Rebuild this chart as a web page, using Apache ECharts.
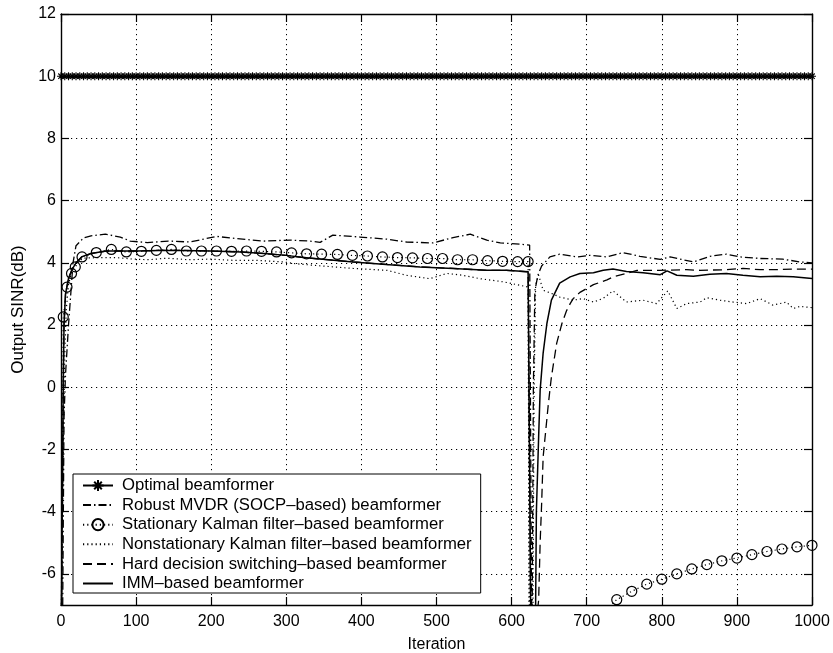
<!DOCTYPE html>
<html><head><meta charset="utf-8">
<script src="https://cdn.jsdelivr.net/npm/echarts@6/dist/echarts.min.js"></script>
<style>html,body{margin:0;padding:0;background:#fff}#c{width:833px;height:653px}</style>
</head><body><div id="c"></div>
<script>
// ---- axis ticks ----
const xTickValues = [0, 100, 200, 300, 400, 500, 600, 700, 800, 900, 1000];
const yTickValues = [-6, -4, -2, 0, 2, 4, 6, 8, 10, 12];

// ---- series names ----
const seriesNames = [
  'Optimal beamformer',
  'Robust MVDR (SOCP–based) beamformer',
  'Stationary Kalman filter–based beamformer',
  'Nonstationary Kalman filter–based beamformer',
  'Hard decision switching–based beamformer',
  'IMM–based beamformer'
];

// ---- Optimal beamformer (constant) ----
const optimalSINR = 10;
const optimalMarkerStep = 5;

// ---- Robust MVDR ----
const mvdrIter = [0, 2, 4, 6, 8, 10, 13, 16, 20, 30, 40, 59, 79, 92, 115, 143, 172, 207, 234, 269, 305, 331, 345, 362, 398, 434, 460, 495, 522, 545, 567, 585, 611, 624, 627, 629, 631, 635, 640, 651, 664, 687, 704, 727, 748, 771, 798, 811, 842, 864, 886, 904, 931, 961, 984, 1000];
const mvdrSINR = [-9, -8, -1, 0.4, 1.2, 2.0, 3.0, 4.0, 4.55, 4.8, 4.87, 4.92, 4.83, 4.70, 4.65, 4.70, 4.67, 4.85, 4.78, 4.70, 4.73, 4.70, 4.66, 4.89, 4.83, 4.76, 4.67, 4.64, 4.81, 4.92, 4.73, 4.64, 4.60, 4.57, -9, 0, 3.1, 3.6, 3.9, 4.19, 4.28, 4.19, 4.24, 4.19, 4.33, 4.21, 4.11, 4.19, 4.03, 4.21, 4.28, 4.19, 4.14, 4.12, 4.03, 4.0];

// ---- Stationary Kalman ----
const statIter = [0, 3, 8, 14, 19, 28, 47, 67, 87, 107, 127, 147, 167, 187, 207, 227, 247, 267, 287, 307, 327, 347, 368, 388, 408, 428, 448, 468, 488, 508, 528, 548, 568, 588, 608, 622, 624, 722, 740, 760, 780, 800, 820, 840, 860, 880, 900, 920, 940, 960, 980, 1000];
const statSINR = [-9, 2.26, 3.22, 3.66, 3.87, 4.19, 4.33, 4.43, 4.35, 4.37, 4.40, 4.43, 4.38, 4.38, 4.38, 4.37, 4.38, 4.37, 4.35, 4.32, 4.29, 4.28, 4.27, 4.24, 4.22, 4.19, 4.17, 4.16, 4.14, 4.14, 4.10, 4.10, 4.07, 4.05, 4.04, 4.04, -14, -7.2, -6.83, -6.56, -6.33, -6.17, -6.0, -5.84, -5.70, -5.58, -5.49, -5.38, -5.28, -5.20, -5.13, -5.08];

// ---- Nonstationary Kalman ----
const nonstatIter = [0, 3, 5, 7, 10, 15, 20, 30, 50, 73, 96, 117, 141, 170, 200, 230, 260, 296, 313, 347, 389, 434, 460, 491, 514, 535, 558, 589, 611, 622, 624, 628, 630, 632, 636, 642, 655, 664, 682, 695, 709, 722, 735, 753, 775, 793, 808, 820, 833, 851, 860, 877, 895, 913, 931, 948, 966, 975, 984, 1000];
const nonstatSINR = [-9, -2, 1, 2.5, 3.3, 3.8, 4.0, 4.15, 4.17, 4.17, 4.12, 4.10, 4.15, 4.10, 4.12, 4.08, 4.08, 4.03, 3.97, 3.90, 3.82, 3.76, 3.60, 3.49, 3.66, 3.60, 3.49, 3.39, 3.28, 3.22, -9, -9, 0, 3.3, 3.6, 3.12, 3.0, 2.9, 2.80, 2.85, 2.74, 2.86, 3.10, 2.74, 2.80, 2.69, 3.10, 2.53, 2.69, 2.74, 2.88, 2.80, 2.74, 2.69, 2.85, 2.64, 2.74, 2.53, 2.60, 2.56];

// ---- Hard decision switching ----
const hardIter = [0, 2, 3, 4, 6, 10, 15, 20, 28, 40, 60, 80, 100, 130, 160, 200, 240, 270, 300, 320, 345, 389, 433, 478, 522, 567, 593, 622, 626, 636, 638, 640, 642, 649, 653, 660, 667, 673, 678, 682, 691, 709, 727, 735, 753, 767, 784, 798, 833, 851, 886, 908, 931, 953, 975, 1000];
const hardSINR = [-9, -3, 0, 2.0, 3.0, 3.5, 3.8, 4.0, 4.2, 4.3, 4.38, 4.38, 4.38, 4.40, 4.40, 4.38, 4.35, 4.30, 4.24, 4.18, 4.12, 4.03, 3.95, 3.87, 3.82, 3.76, 3.76, 3.71, -9, -6.85, -5.0, -3.74, -2.24, -0.52, 0.33, 1.41, 2.05, 2.45, 2.69, 2.85, 3.05, 3.30, 3.45, 3.55, 3.66, 3.76, 3.76, 3.76, 3.78, 3.76, 3.78, 3.82, 3.78, 3.78, 3.80, 3.80];

// ---- IMM ----
const immIter = [0, 2, 3, 4, 6, 10, 15, 20, 28, 40, 60, 80, 100, 130, 160, 200, 240, 270, 300, 320, 345, 389, 433, 478, 522, 567, 593, 622, 626, 632, 633, 636, 638, 642, 647, 653, 664, 678, 691, 709, 722, 735, 753, 775, 798, 807, 820, 842, 864, 886, 908, 931, 953, 975, 1000];
const immSINR = [-9, -3, 0, 2.0, 3.0, 3.5, 3.8, 4.0, 4.2, 4.3, 4.38, 4.38, 4.38, 4.40, 4.40, 4.38, 4.35, 4.30, 4.24, 4.18, 4.12, 4.03, 3.95, 3.87, 3.82, 3.76, 3.76, 3.71, -9, -7, -4, -1.6, -0.1, 1.1, 2.05, 2.8, 3.35, 3.55, 3.66, 3.68, 3.76, 3.80, 3.72, 3.68, 3.62, 3.74, 3.60, 3.57, 3.63, 3.66, 3.60, 3.55, 3.57, 3.55, 3.50];

// ---------------------------------------------------------------
const FONT = "'Liberation Sans', Arial, Helvetica, sans-serif";
const pairs = (xs, ys) => xs.map((x, i) => [x, ys[i]]);
const optimalData = [];
for (let it = xTickValues[0]; it <= xTickValues[xTickValues.length - 1]; it += optimalMarkerStep) optimalData.push([it, optimalSINR]);

const asterisk = 'path://M0,5L10,5M5,0L5,10M1.6,1.6L8.4,8.4M8.4,1.6L1.6,8.4';

const chart = echarts.init(document.getElementById('c'), null, {renderer: 'canvas'});
const axisLineStyle = {color: '#000', width: 1.4};
const tickStyle = {color: '#000', width: 1.2};
const gridDots = {show: true, lineStyle: {color: '#000', width: 1, type: [1.2, 3.8]}};
const hiddenMark = {color: 'rgba(0,0,0,0)', borderColor: 'rgba(0,0,0,0)', borderWidth: 0};

chart.setOption({
  animation: false,
  backgroundColor: '#fff',
  grid: {left: 61, right: 21, top: 14, bottom: 48, containLabel: false, outerBoundsMode: 'none'},
  xAxis: [{
    type: 'value', min: 0, max: 1000, interval: 100, position: 'bottom',
    name: 'Iteration', nameLocation: 'middle', nameGap: 32,
    nameTextStyle: {color: '#000', fontFamily: FONT, fontSize: 16},
    axisLine: {show: true, onZero: false, lineStyle: axisLineStyle},
    axisTick: {show: true, inside: true, length: 8, lineStyle: tickStyle},
    axisLabel: {color: '#000', fontFamily: FONT, fontSize: 16, margin: 9, formatter: v => String(v)},
    splitLine: gridDots
  }, {
    type: 'value', min: 0, max: 1000, interval: 100, position: 'top',
    axisLine: {show: true, onZero: false, lineStyle: axisLineStyle},
    axisTick: {show: true, inside: true, length: 8, lineStyle: tickStyle},
    axisLabel: {show: false}, splitLine: {show: false}
  }],
  yAxis: [{
    type: 'value', min: -7, max: 12, position: 'left',
    name: 'Output SINR(dB)', nameLocation: 'middle', nameGap: 33,
    nameTextStyle: {color: '#000', fontFamily: FONT, fontSize: 17},
    axisLine: {show: true, onZero: false, lineStyle: axisLineStyle},
    axisTick: {show: true, inside: true, length: 8, customValues: yTickValues, lineStyle: tickStyle},
    axisLabel: {color: '#000', fontFamily: FONT, fontSize: 16, margin: 5, customValues: yTickValues},
    splitLine: gridDots
  }, {
    type: 'value', min: -7, max: 12, position: 'right',
    axisLine: {show: true, onZero: false, lineStyle: axisLineStyle},
    axisTick: {show: true, inside: true, length: 8, customValues: yTickValues, lineStyle: tickStyle},
    axisLabel: {show: false, customValues: yTickValues}, splitLine: {show: false}
  }],
  legend: {
    orient: 'vertical', left: 73, top: 474,
    backgroundColor: '#fff', borderColor: '#000', borderWidth: 1,
    padding: [3, 9, 1, 9], itemGap: 2.6, itemWidth: 30, itemHeight: 14,
    selectedMode: false,
    textStyle: {color: '#000', fontFamily: FONT, fontSize: 16.7, lineHeight: 16, padding: [0, 0, 0, 4]},
    data: [
      {name: seriesNames[0]},
      {name: seriesNames[1], itemStyle: hiddenMark},
      {name: seriesNames[2], itemStyle: {borderType: 'solid'}},
      {name: seriesNames[3], itemStyle: hiddenMark},
      {name: seriesNames[4], itemStyle: hiddenMark},
      {name: seriesNames[5], itemStyle: hiddenMark}
    ]
  },
  series: [
    {
      name: seriesNames[0], type: 'line', data: optimalData, showAllSymbol: true,
      symbol: asterisk, symbolSize: 8,
      itemStyle: {color: '#000', borderColor: '#000', borderWidth: 1.1},
      lineStyle: {color: '#000', width: 1.4}, z: 5
    },
    {
      name: seriesNames[1], type: 'line', data: pairs(mvdrIter, mvdrSINR), symbol: 'none',
      itemStyle: {color: '#000'},
      lineStyle: {color: '#000', width: 1.3, type: [8, 3, 1.5, 3]}
    },
    {
      name: seriesNames[2], type: 'line', data: pairs(statIter, statSINR), showAllSymbol: true,
      symbol: 'circle', symbolSize: 10,
      itemStyle: {color: 'rgba(0,0,0,0)', borderColor: '#000', borderWidth: 1.2, borderType: 'solid'},
      lineStyle: {color: '#000', width: 1.2, type: [1.2, 3]}
    },
    {
      name: seriesNames[3], type: 'line', data: pairs(nonstatIter, nonstatSINR), symbol: 'none',
      itemStyle: {color: '#000'},
      lineStyle: {color: '#000', width: 1.2, type: [1.2, 3]}
    },
    {
      name: seriesNames[4], type: 'line', data: pairs(hardIter, hardSINR), symbol: 'none',
      itemStyle: {color: '#000'},
      lineStyle: {color: '#000', width: 1.3, type: [9, 5]}
    },
    {
      name: seriesNames[5], type: 'line', data: pairs(immIter, immSINR), symbol: 'none',
      itemStyle: {color: '#000'},
      lineStyle: {color: '#000', width: 1.5}
    }
  ]
});
</script></body></html>
